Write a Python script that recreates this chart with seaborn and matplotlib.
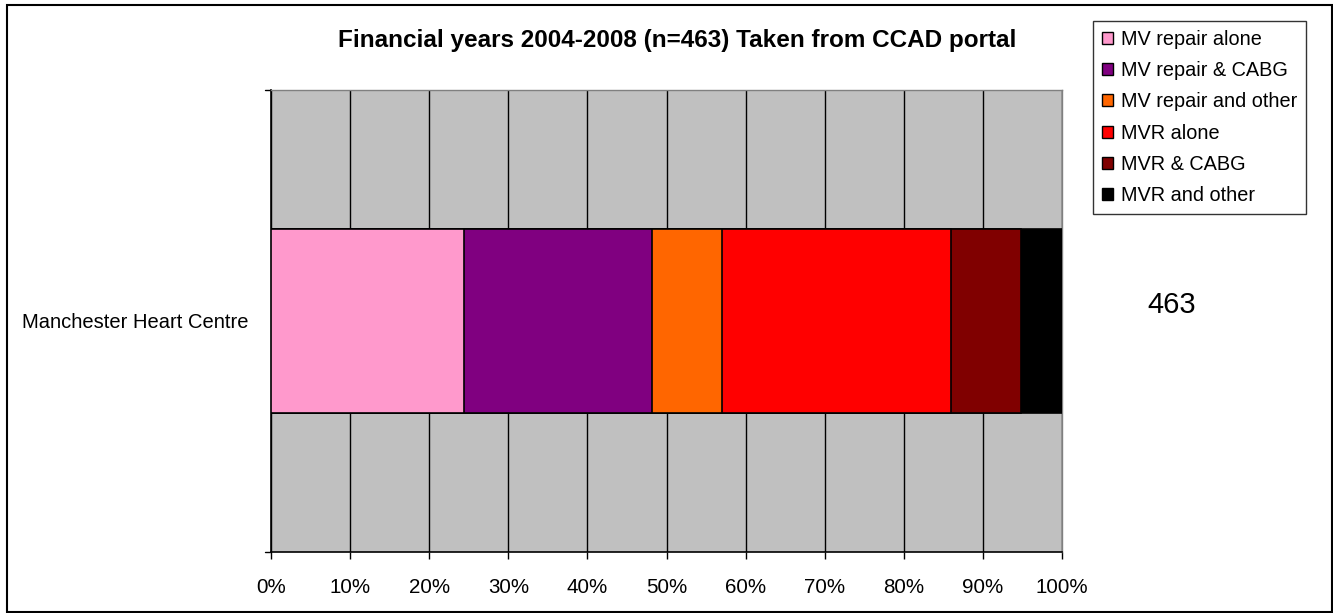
import matplotlib
matplotlib.use("Agg")
import matplotlib.pyplot as plt
import seaborn as sns
import pandas as pd
import numpy as np
from matplotlib.patches import Rectangle, Patch

sns.set_theme(style="white")
plt.rcParams['font.family'] = ['Liberation Sans', 'DejaVu Sans']
plt.rcParams['text.color'] = 'black'
plt.rcParams['xtick.color'] = 'black'
plt.rcParams['ytick.color'] = 'black'
plt.rcParams['axes.labelcolor'] = 'black'

title = "Financial years 2004-2008 (n=463) Taken from CCAD portal"
centre = "Manchester Heart Centre"
categories = ["MV repair alone", "MV repair & CABG", "MV repair and other",
              "MVR alone", "MVR & CABG", "MVR and other"]
counts = [113, 110, 41, 134, 41, 24]
colors = ["#FF99CC", "#800080", "#FF6600", "#FF0000", "#800000", "#000000"]
tick_labels = ["0%", "10%", "20%", "30%", "40%", "50%", "60%", "70%", "80%", "90%", "100%"]

total = sum(counts)
pct = np.array(counts) / total * 100
cum = np.cumsum(pct)

W, H = 1333, 613
fig = plt.figure(figsize=(W / 100, H / 100), dpi=100)
ax = fig.add_axes([271 / W, 1 - 552 / H, (1062 - 271) / W, (552 - 90) / H])
ax.set_facecolor("#C0C0C0")

# Draw cumulative bars from the largest to the smallest so they stack visually
for i in range(len(categories) - 1, -1, -1):
    df = pd.DataFrame({"centre": [centre], "value": [cum[i]]})
    sns.barplot(data=df, x="value", y="centre", orient="h", color=colors[i],
                saturation=1, width=0.398, edgecolor="black", linewidth=1.2,
                ax=ax, zorder=3)

ax.set_xlim(0, 100)
ax.set_ylim(0.5, -0.5)
ax.set_xticks(np.arange(0, 101, 10))
ax.set_xticklabels(tick_labels, fontsize=14.8, color="black")
ax.xaxis.grid(True, color="black", linewidth=1)
ax.set_axisbelow(True)
ax.set_xlabel("")
ax.set_ylabel("")
ax.set_yticks([0])
ax.set_yticklabels([centre], fontsize=14.5, color="black")
ax.tick_params(axis="y", length=0, pad=16)
ax.tick_params(axis="x", direction="out", length=5, width=1, color="black",
               bottom=True, pad=14)
# category boundary ticks on the left axis
for yy in (-0.5, 0.5):
    ax.plot([-0.008, 0], [yy, yy], transform=ax.get_yaxis_transform(),
            color="black", lw=1, clip_on=False)

for s in ["left", "bottom"]:
    ax.spines[s].set_color("black")
    ax.spines[s].set_linewidth(1.2)
for s in ["top", "right"]:
    ax.spines[s].set_color("#808080")
    ax.spines[s].set_linewidth(1)

fig.text(677 / W, 1 - 40 / H, title, ha="center", va="center",
         fontsize=17.5, fontweight="bold", color="black")
fig.text(1172 / W, 1 - 305 / H, str(total), ha="center", va="center",
         fontsize=21, color="black")

handles = [Patch(facecolor=c, edgecolor="black", linewidth=1, label=l)
           for c, l in zip(colors, categories)]
leg = fig.legend(handles=handles, loc="upper left",
                 bbox_to_anchor=(1092.7 / W, 1 - 20.7 / H), fontsize=14.3,
                 frameon=True, fancybox=False, handlelength=0.55,
                 handleheight=0.55, handletextpad=0.4, labelspacing=0.62,
                 borderpad=0.45, borderaxespad=0, labelcolor="black")
leg.get_frame().set_edgecolor("black")
leg.get_frame().set_linewidth(1)

fig.patches.append(Rectangle((7 / W, 1 / H), (W - 8) / W, (H - 6) / H,
                             transform=fig.transFigure,
                             fill=False, edgecolor="black", linewidth=1.5))

fig.savefig("out.png", dpi=100)
